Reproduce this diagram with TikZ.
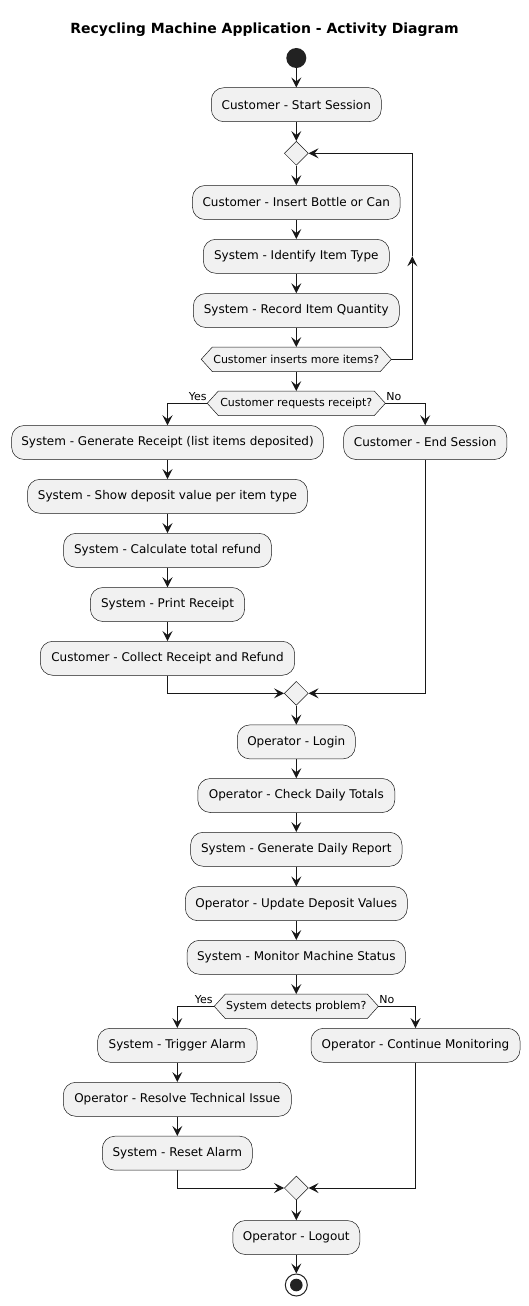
\documentclass[tikz,border=0pt]{standalone}
\usepackage{fontspec}
\setmainfont{DejaVu Sans}
\usetikzlibrary{arrows.meta,shapes.geometric,calc}
\definecolor{boxfill}{HTML}{F1F1F1}
\definecolor{boxline}{HTML}{181818}
\definecolor{dotc}{HTML}{222222}
\pgfdeclarelayer{bg}
\pgfsetlayers{bg,main}
\newcommand\drawhex[1]{%
  \begin{pgfonlayer}{bg}
  \draw[hexline] (#1.west) -- ([xshift=11pt]#1.north west) -- ([xshift=-11pt]#1.north east) -- (#1.east) -- ([xshift=-11pt]#1.south east) -- ([xshift=11pt]#1.south west) -- cycle;
  \end{pgfonlayer}}
\tikzset{
  act/.style={draw=boxline, line width=0.5pt, fill=boxfill, rounded corners=12.5pt,
    minimum height=34pt, inner xsep=2pt, inner ysep=0pt, font=\fontsize{12}{14}\selectfont, text=black},
  mergept/.style={diamond, draw=boxline, line width=0.5pt, fill=boxfill, minimum width=24pt,
    minimum height=24pt, inner sep=0pt, aspect=1},
  hexnode/.style={minimum height=24pt, inner sep=0pt, font=\fontsize{11}{13}\selectfont, text=black},
  hexline/.style={draw=boxline, line width=0.5pt, fill=boxfill},
  flow/.style={draw=boxline, line width=1pt, -{Stealth[length=10pt,width=10pt,inset=4pt]}},
  lbl/.style={font=\fontsize{11}{13}\selectfont, inner sep=0pt, text=black},
}
\begin{document}
\begin{tikzpicture}[x=1pt,y=-1pt]
\useasboundingbox (0,0) rectangle (529,1306);
\def\X{296.3}
\def\L{167.5}
\def\R{425.2}
\def\LL{177.3}
\def\RR{415.5}
\node[anchor=base, font=\bfseries\fontsize{14}{16}\selectfont] (title) at (264.5,34) {Recycling Machine Application - Activity Diagram};
\node[circle, fill=dotc, minimum size=20pt, inner sep=0pt] (start) at (\X,58) {};
\node[act, minimum width=170pt] (s1) at (\X,104.7) {Customer - Start Session};
\node[mergept] (d1) at (\X,153.3) {};
\node[act, minimum width=207.7pt] (s2) at (\X,202.5) {Customer - Insert Bottle or Can};
\node[act, minimum width=186pt] (s3) at (\X,256.3) {System - Identify Item Type};
\node[act, minimum width=206pt] (s4) at (\X,310.5) {System - Record Item Quantity};
\node[hexnode, minimum width=189.7pt] (h1) at (\X,359.3) {Customer inserts more items?};
\drawhex{h1}
\node[hexnode, minimum width=177.7pt] (h2) at (\X,403.3) {Customer requests receipt?};
\drawhex{h2}
\node[act, minimum width=311.8pt] (r1) at (\L,442.5) {System - Generate Receipt (list items deposited)};
\node[act, minimum width=163.4pt] (n1) at (\R,442.5) {Customer - End Session};
\node[act, minimum width=280pt] (r2) at (\L,496.3) {System - Show deposit value per item type};
\node[act, minimum width=208pt] (r3) at (\L,550.3) {System - Calculate total refund};
\node[act, minimum width=154.3pt] (r4) at (\L,604.5) {System - Print Receipt};
\node[act, minimum width=254.4pt] (r5) at (\L,658.3) {Customer - Collect Receipt and Refund};
\node[mergept] (m1) at (\X,693.3) {};
\node[act, minimum width=118pt] (o1) at (\X,741.9) {Operator - Login};
\node[act, minimum width=197pt] (o2) at (\X,795.5) {Operator - Check Daily Totals};
\node[act, minimum width=211.4pt] (o3) at (\X,849.3) {System - Generate Daily Report};
\node[act, minimum width=222pt] (o4) at (\X,903.7) {Operator - Update Deposit Values};
\node[act, minimum width=218.4pt] (o5) at (\X,957.3) {System - Monitor Machine Status};
\node[hexnode, minimum width=163.7pt] (h3) at (\X,1006.3) {System detects problem?};
\drawhex{h3}
\node[act, minimum width=159.4pt] (a1) at (\LL,1045.3) {System - Trigger Alarm};
\node[act, minimum width=209pt] (c1) at (\RR,1045.3) {Operator - Continue Monitoring};
\node[act, minimum width=228pt] (a2) at (\LL,1099.3) {Operator - Resolve Technical Issue};
\node[act, minimum width=150pt] (a3) at (\LL,1153.2) {System - Reset Alarm};
\node[mergept] (m2) at (\X,1188) {};
\node[act, minimum width=127pt] (e1) at (\X,1237.5) {Operator - Logout};
\node[circle, draw=dotc, line width=1pt, fill=white, minimum size=22pt, inner sep=0pt] (stop) at (\X,1285) {};
\node[circle, fill=dotc, minimum size=12.6pt, inner sep=0pt] (stopin) at (stop.center) {};
% connectors
\draw[flow] (start) -- (s1);
\draw[flow] (s1) -- (d1);
\draw[flow] (d1) -- (s2);
\draw[flow] (s2) -- (s3);
\draw[flow] (s3) -- (s4);
\draw[flow] (s4) -- (h1);
\coordinate (loopmid) at (412.3,256.3);
\draw[flow] (h1.east) -| (loopmid);
\draw[flow] (loopmid) |- (d1.east);
\draw[flow] (h1) -- (h2);
\draw[flow] (h2.west) -| (r1.north);
\draw[flow] (h2.east) -| (n1.north);
\node[lbl, anchor=base east] (yes1) at ([xshift=-0.5pt,yshift=2.6pt]h2.west) {Yes};
\node[lbl, anchor=base west] (no1) at ([xshift=0.8pt,yshift=2.6pt]h2.east) {No};
\draw[flow] (r1) -- (r2);
\draw[flow] (r2) -- (r3);
\draw[flow] (r3) -- (r4);
\draw[flow] (r4) -- (r5);
\draw[flow] (r5.south) |- (m1.west);
\draw[flow] (n1.south) |- (m1.east);
\draw[flow] (m1) -- (o1);
\draw[flow] (o1) -- (o2);
\draw[flow] (o2) -- (o3);
\draw[flow] (o3) -- (o4);
\draw[flow] (o4) -- (o5);
\draw[flow] (o5) -- (h3);
\draw[flow] (h3.west) -| (a1.north);
\draw[flow] (h3.east) -| (c1.north);
\node[lbl, anchor=base east] (yes2) at ([xshift=-1.5pt,yshift=2.5pt]h3.west) {Yes};
\node[lbl, anchor=base west] (no2) at ([xshift=0.8pt,yshift=2.5pt]h3.east) {No};
\draw[flow] (a1) -- (a2);
\draw[flow] (a2) -- (a3);
\draw[flow] (a3.south) |- (m2.west);
\draw[flow] (c1.south) |- (m2.east);
\draw[flow] (m2) -- (e1);
\draw[flow] (e1) -- (stop);
\end{tikzpicture}
\end{document}
